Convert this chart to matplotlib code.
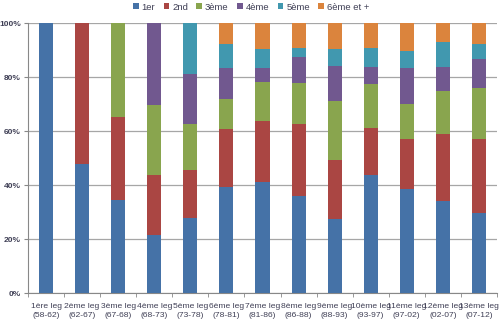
import matplotlib
matplotlib.use("Agg")
import matplotlib.pyplot as plt
import numpy as np

plt.rcParams['font.family'] = ['Liberation Sans Narrow', 'Liberation Sans', 'DejaVu Sans']

categories = ["1ère leg\n(58-62)", "2ème leg\n(62-67)", "3ème leg\n(67-68)", "4ème leg\n(68-73)",
              "5ème leg\n(73-78)", "6ème leg\n(78-81)", "7ème leg\n(81-86)", "8ème leg\n(86-88)",
              "9ème leg\n(88-93)", "10ème leg\n(93-97)", "11ème leg\n(97-02)", "12ème leg\n(02-07)",
              "13ème leg\n(07-12)"]
series_names = ["1er", "2nd", "3ème", "4ème", "5ème", "6ème et +"]
s_1er  = [100, 48.0, 34.6, 21.5, 27.8, 39.5, 41.1, 36.0, 27.5, 43.9, 38.5, 34.1, 29.6]
s_2nd  = [0, 52.0, 30.8, 22.2, 17.9, 21.4, 22.7, 26.8, 21.9, 17.4, 18.5, 25.0, 27.4]
s_3eme = [0, 0, 34.6, 25.9, 17.0, 11.2, 14.6, 15.3, 21.8, 16.1, 13.0, 15.9, 19.1]
s_4eme = [0, 0, 0, 30.4, 18.5, 11.3, 5.2, 9.3, 13.0, 6.5, 13.4, 8.8, 10.8]
s_5eme = [0, 0, 0, 0, 18.8, 8.9, 6.8, 3.6, 6.5, 7.1, 6.3, 9.3, 5.3]
s_6eme = [0, 0, 0, 0, 0, 7.7, 9.6, 9.0, 9.3, 9.0, 10.3, 6.9, 7.8]
ytick_labels = ["0%", "20%", "40%", "60%", "80%", "100%"]

colors = ["#4572A7", "#AA4643", "#89A54E", "#71588F", "#4198AF", "#DB843D"]
txt = "#3F3F55"

fig = plt.figure(figsize=(5, 3.25), dpi=100)
ax = fig.add_axes([0.056, 0.0975, 0.938, 0.8305])

x = np.arange(len(categories))
bottom = np.zeros(len(categories))
for name, vals, c in zip(series_names, [s_1er, s_2nd, s_3eme, s_4eme, s_5eme, s_6eme], colors):
    v = np.array(vals, dtype=float)
    ax.bar(x, v, 0.39, bottom=bottom, color=c, label=name, zorder=3)
    bottom += v

ax.set_xlim(-0.5, len(categories) - 0.5)
ax.set_ylim(0, 100)
ax.set_yticks([0, 20, 40, 60, 80, 100])
ax.set_yticklabels(ytick_labels, fontsize=6, color=txt, fontweight="bold")
ax.set_xticks(x)
ax.set_xticklabels(categories, fontsize=6.1, color=txt, linespacing=1.45)
ax.set_xticks(np.arange(-0.5, len(categories) + 0.5, 1), minor=True)
ax.tick_params(axis="x", which="major", length=0, pad=7)
ax.tick_params(axis="x", which="minor", length=3, color="#888888")
ax.tick_params(axis="y", length=3, color="#888888", pad=2)
ax.grid(axis="y", color="#A6A6A6", linewidth=0.9, zorder=0)
for s in ["top", "right"]:
    ax.spines[s].set_visible(False)
ax.spines["left"].set_color("#888888")
ax.spines["bottom"].set_color("#888888")

leg = fig.legend(loc="center", bbox_to_anchor=(0.502, 0.978), ncol=6, frameon=False,
                 fontsize=6.8, handlelength=0.6, handleheight=0.6, handletextpad=0.3,
                 columnspacing=0.9, borderaxespad=0)
for t in leg.get_texts():
    t.set_color(txt)

fig.savefig("out.png", dpi=100)
